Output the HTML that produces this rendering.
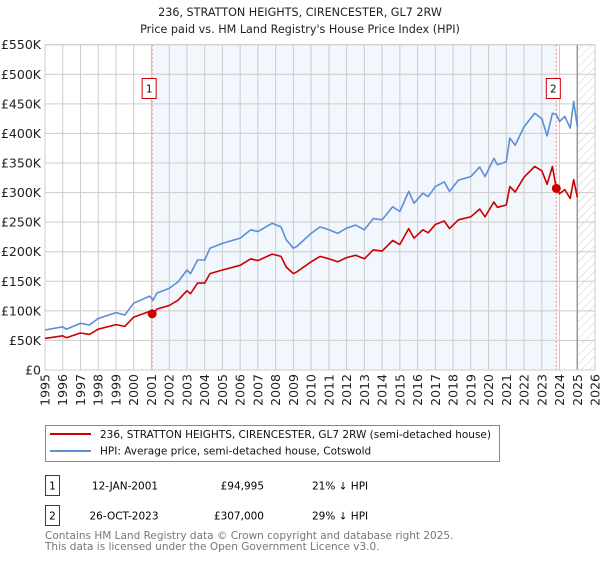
<!DOCTYPE html>
<html><head><meta charset="utf-8"><style>
body{margin:0;background:#fff;font-family:"Liberation Sans","DejaVu Sans",sans-serif;}
svg text{font-family:"DejaVu Sans","Liberation Sans",sans-serif;}
</style></head><body>
<svg id="chart" width="600" height="560" xmlns="http://www.w3.org/2000/svg">
<defs><pattern id="hatch" width="6" height="6" patternUnits="userSpaceOnUse" patternTransform="rotate(45)"><line x1="0" y1="0" x2="0" y2="6" stroke="#ccc" stroke-width="1"/></pattern></defs>
<text x="300" y="16" text-anchor="middle" font-size="11.2" fill="#222">236, STRATTON HEIGHTS, CIRENCESTER, GL7 2RW</text>
<text x="300" y="33" text-anchor="middle" font-size="11.2" fill="#222">Price paid vs. HM Land Registry's House Price Index (HPI)</text>
<g id="plot"></g>
<g>
<rect x="45.5" y="425.5" width="454" height="36" fill="#fff" stroke="#888"/>
<line x1="50" y1="434" x2="91" y2="434" stroke="#cc0000" stroke-width="2"/>
<text x="100" y="438" font-size="10.5" fill="#111">236, STRATTON HEIGHTS, CIRENCESTER, GL7 2RW (semi-detached house)</text>
<line x1="50" y1="451" x2="91" y2="451" stroke="#5b8fd6" stroke-width="2"/>
<text x="100" y="454.5" font-size="10.5" fill="#111">HPI: Average price, semi-detached house, Cotswold</text>
</g>
<g>
<rect x="45.5" y="475.5" width="14" height="20" fill="none" stroke="#cc0000"/>
<text x="52.5" y="489.5" text-anchor="middle" font-size="10.5">1</text>
<text x="125" y="489.5" text-anchor="middle" font-size="10.5">12-JAN-2001</text>
<text x="264" y="489.5" text-anchor="end" font-size="10.5">£94,995</text>
<text x="312" y="489.5" font-size="10.5">21% ↓ HPI</text>
</g>
<g>
<rect x="45.5" y="505.5" width="14" height="20" fill="none" stroke="#cc0000"/>
<text x="52.5" y="519.5" text-anchor="middle" font-size="10.5">2</text>
<text x="124" y="519.5" text-anchor="middle" font-size="10.5">26-OCT-2023</text>
<text x="264" y="519.5" text-anchor="end" font-size="10.5">£307,000</text>
<text x="312" y="519.5" font-size="10.5">29% ↓ HPI</text>
</g>
<text x="45" y="539" font-size="10.5" fill="#777">Contains HM Land Registry data © Crown copyright and database right 2025.</text>
<text x="45" y="550" font-size="10.5" fill="#777">This data is licensed under the Open Government Licence v3.0.</text>
</svg>
<script>
const hpiYears=[1995,1996,1996.2,1997,1997.5,1998,1999,1999.5,2000,2000.9,2001.1,2001.3,2002,2002.5,2003,2003.2,2003.6,2004,2004.3,2005,2006,2006.6,2007,2007.8,2008.3,2008.6,2009,2009.2,2010,2010.5,2011,2011.5,2012,2012.5,2013,2013.5,2014,2014.6,2015,2015.5,2015.8,2016.3,2016.6,2017,2017.5,2017.8,2018.3,2019,2019.5,2019.8,2020.3,2020.5,2021,2021.2,2021.5,2022,2022.6,2023,2023.3,2023.6,2023.82,2024,2024.3,2024.6,2024.8,2025];
const hpiValues=[67.6,73,69,79,76,87,97,93,113,125,118,130,138,149,169,163,186,186,206,214,223,237,234,248,242,220,206,209,231,242,237,231,240,245,237,256,254,276,268,302,282,299,293,310,318,302,321,327,343,327,358,347,352,392,380,411,434,425,396,434,432,420,429,409,454,411];
const priceValues=[53.5,57.8,54.6,62.6,60.2,68.9,76.8,73.7,89.5,99,93.5,103,109,118,134,129,147,147,163,169,177,188,185,196,192,174,163,166,183,192,188,183,190,194,188,203,201,219,212,239,223,237,232,246,252,239,254,259,272,259,284,275,279,310,301,326,344,337,314,344,307,298,305,290,322,292];
const saleYears=[2001.04,2023.82];
const salePrices=[94.995,307];
const saleLabels=["1","2"];
const yTicks=[0,50,100,150,200,250,300,350,400,450,500,550];
const yTickLabels=["£0","£50K","£100K","£150K","£200K","£250K","£300K","£350K","£400K","£450K","£500K","£550K"];
const xTicks=[1995,1996,1997,1998,1999,2000,2001,2002,2003,2004,2005,2006,2007,2008,2009,2010,2011,2012,2013,2014,2015,2016,2017,2018,2019,2020,2021,2022,2023,2024,2025,2026];
const dataEnd=2025.0;
const X0=45,X1=595,Y0=370,Y1=44.7;
const xs=y=>X0+(y-1995)/(2026-1995)*(X1-X0);
const ys=v=>Y0-v/550*(Y0-Y1);
const NS="http://www.w3.org/2000/svg";
const g=document.getElementById('plot');
function mk(t,a){const e=document.createElementNS(NS,t);for(const k in a)e.setAttribute(k,a[k]);g.appendChild(e);return e;}
let e;
e=mk('rect',{x:xs(saleYears[0]),y:Y1,width:xs(saleYears[1])-xs(saleYears[0]),height:Y0-Y1,fill:'#f2f6fd'});


e=mk('rect',{x:xs(dataEnd),y:Y1,width:X1-xs(dataEnd),height:Y0-Y1,fill:'url(#hatch)'});


yTicks.forEach((t,i)=>{
 e=mk('line',{x1:X0,x2:X1,y1:ys(t),y2:ys(t),stroke:'#ccc','stroke-width':1});
 
 
 e=mk('text',{x:X0-4,y:ys(t)+4.5,'text-anchor':'end','font-size':12.5,fill:'#222'});e.textContent=yTickLabels[i];
 
 
});
xTicks.forEach(t=>{
 e=mk('line',{x1:xs(t),x2:xs(t),y1:Y1,y2:Y0,stroke:'#ccc','stroke-width':1});
 
 
 e=mk('text',{x:0,y:0,transform:`translate(${xs(t)+4.5},${Y0+4}) rotate(-90)`,'text-anchor':'end','font-size':12.5,fill:'#222'});e.textContent=t;
 
 
});
e=mk('line',{x1:xs(dataEnd),x2:xs(dataEnd),y1:Y1,y2:Y0,stroke:'#999','stroke-width':1.5});


e=mk('rect',{x:X0,y:Y1,width:X1-X0,height:Y0-Y1,fill:'none',stroke:'#ccc'});


saleYears.forEach((s,i)=>{
 e=mk('line',{x1:xs(s),x2:xs(s),y1:Y1,y2:Y0,stroke:'#e88','stroke-width':1,'stroke-dasharray':'2,2'});
 
 
 const lx=xs(s)-3;
 e=mk('rect',{x:lx-7,y:78.5,width:14,height:20,fill:'#fff',stroke:'#cc0000'});
 
 
 e=mk('text',{x:lx,y:92.5,'text-anchor':'middle','font-size':10.5,fill:'#111'});e.textContent=saleLabels[i];
 
 
});
const path=vals=>vals.map((v,i)=>(i?'L':'M')+xs(hpiYears[i]).toFixed(1)+','+ys(v).toFixed(1)).join('');
e=mk('path',{d:path(hpiValues),fill:'none',stroke:'#5b8fd6','stroke-width':1.6,'stroke-linejoin':'round'});


e=mk('path',{d:path(priceValues),fill:'none',stroke:'#cc0000','stroke-width':1.6,'stroke-linejoin':'round'});


saleYears.forEach((s,i)=>{
 e=mk('circle',{cx:xs(s),cy:ys(salePrices[i]),r:4.5,fill:'#cc0000'});
 
 
});
</script>
</body></html>
